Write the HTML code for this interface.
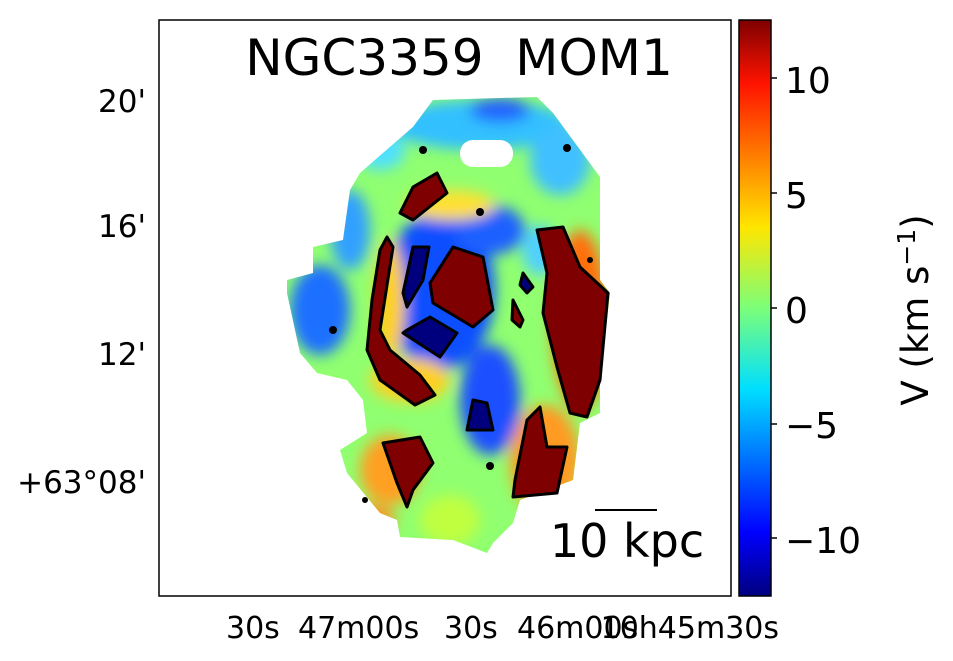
<!DOCTYPE html>
<html><head><meta charset="utf-8"><style>
html,body{margin:0;padding:0;background:#fff}
svg text{font-family:"DejaVu Sans","Liberation Sans",sans-serif}
</style></head><body>
<svg width="953" height="656" viewBox="0 0 953 656" xmlns="http://www.w3.org/2000/svg">
<defs>
<linearGradient id="jet" x1="0" y1="1" x2="0" y2="0">
<stop offset="0" stop-color="#00007f"/><stop offset="0.11" stop-color="#0000ff"/>
<stop offset="0.36" stop-color="#00dfff"/><stop offset="0.5" stop-color="#7cff79"/>
<stop offset="0.64" stop-color="#ffe600"/><stop offset="0.89" stop-color="#ff1300"/>
<stop offset="1" stop-color="#7f0000"/></linearGradient>
<clipPath id="gal"><path d="M413,127 L433,100 L537,97 L553,113 L600,177 L600,280 L610,293 L600,380 L600,413 L580,423 L573,480 L520,500 L513,523 L493,543 L487,553 L453,540 L400,537 L397,520 L380,513 L347,473 L340,450 L367,433 L363,400 L347,380 L317,373 L300,353 L287,293 L287,280 L313,273 L313,247 L343,240 L350,190 L360,173 Z"/></clipPath>
<filter id="bl" x="-50%" y="-50%" width="200%" height="200%"><feGaussianBlur stdDeviation="7"/></filter>
</defs>
<rect x="159" y="20" width="572" height="576" fill="#fff" stroke="#000" stroke-width="1.5"/>
<g clip-path="url(#gal)">
<rect x="280" y="90" width="340" height="470" fill="#90ff70"/>
<g filter="url(#bl)">
<ellipse cx="480" cy="125" rx="90" ry="25" fill="#30c0ff"/>
<ellipse cx="500" cy="110" rx="30" ry="12" fill="#2060ff"/>
<ellipse cx="380" cy="150" rx="25" ry="20" fill="#50e0ff"/>
<ellipse cx="320" cy="310" rx="30" ry="45" fill="#1a70ff"/>
<ellipse cx="350" cy="230" rx="20" ry="40" fill="#30a0ff"/>
<ellipse cx="440" cy="290" rx="55" ry="80" fill="#1050ff"/>
<ellipse cx="490" cy="230" rx="35" ry="25" fill="#1a60ff"/>
<ellipse cx="490" cy="400" rx="30" ry="55" fill="#1a50ff"/>
<ellipse cx="560" cy="160" rx="30" ry="35" fill="#40c0ff"/>
<ellipse cx="540" cy="250" rx="18" ry="25" fill="#50d0ff"/>
<ellipse cx="390" cy="470" rx="30" ry="35" fill="#ffa020"/>
<ellipse cx="410" cy="380" rx="40" ry="22" fill="#ffd020"/>
<ellipse cx="390" cy="300" rx="15" ry="60" fill="#ffd020"/>
<ellipse cx="545" cy="460" rx="35" ry="55" fill="#ff9a20"/>
<ellipse cx="580" cy="320" rx="28" ry="90" fill="#ff7010"/>
<ellipse cx="450" cy="520" rx="30" ry="25" fill="#c0ff40"/>
<ellipse cx="450" cy="205" rx="45" ry="15" fill="#ffe030"/>
<ellipse cx="370" cy="520" rx="25" ry="15" fill="#ff9020"/>
</g>
</g>
<rect x="460" y="140" width="53" height="27" rx="13" fill="#fff"/>
<g fill="#7f0000" stroke="#000" stroke-width="3" stroke-linejoin="round">
<path d="M453,247 L483,257 L493,310 L473,327 L433,303 L430,283 Z"/>
<path d="M437,173 L447,193 L413,220 L400,213 L413,187 Z"/>
<path d="M387,237 L393,247 L380,330 L390,350 L420,375 L435,395 L415,405 L380,380 L367,350 L372,300 L380,250 Z"/>
<path d="M537,230 L563,227 L580,267 L608,293 L600,380 L587,417 L570,413 L557,367 L543,313 L547,273 Z"/>
<path d="M527,420 L540,407 L547,447 L567,447 L557,493 L513,497 L515,480 Z"/>
<path d="M383,443 L420,437 L433,463 L413,490 L407,507 L397,483 Z"/>
<path d="M513,300 L523,320 L520,327 L512,320 Z"/>
</g>
<g fill="#00007f" stroke="#000" stroke-width="3" stroke-linejoin="round">
<path d="M413,247 L429,247 L423,280 L407,307 L403,293 Z"/>
<path d="M407,330 L430,317 L457,333 L440,357 L403,333 Z"/>
<path d="M473,400 L487,403 L493,430 L467,430 Z"/>
<path d="M523,273 L533,287 L527,293 L520,285 Z"/>
</g>
<g fill="#000"><circle cx="423" cy="150" r="4"/><circle cx="567" cy="148" r="4"/><circle cx="480" cy="212" r="4"/><circle cx="333" cy="330" r="4"/><circle cx="490" cy="466" r="4"/><circle cx="365" cy="500" r="3"/><circle cx="590" cy="260" r="3"/></g>
<line x1="595" y1="510" x2="657" y2="510" stroke="#000" stroke-width="2"/>
<text x="627" y="557" font-size="46" text-anchor="middle">10 kpc</text>
<text x="459" y="75" font-size="50" text-anchor="middle" xml:space="preserve">NGC3359  MOM1</text>
<g font-size="31" text-anchor="end">
<text x="146" y="112">20'</text><text x="146" y="237">16'</text><text x="146" y="365">12'</text><text x="146" y="493">+63°08'</text>
</g>
<g font-size="30">
<text x="226" y="638">30s</text><text x="298" y="638">47m00s</text><text x="444" y="638">30s</text><text x="517" y="638">46m00s</text><text x="779" y="638" text-anchor="end">10h45m30s</text>
</g>
<rect x="739" y="20" width="32" height="576" fill="url(#jet)" stroke="#000" stroke-width="1.5"/>
<g stroke="#000" stroke-width="1.5"><line x1="771" y1="78" x2="777" y2="78"/><line x1="771" y1="193" x2="777" y2="193"/><line x1="771" y1="308" x2="777" y2="308"/><line x1="771" y1="424" x2="777" y2="424"/><line x1="771" y1="538" x2="777" y2="538"/></g>
<g font-size="36">
<text x="785" y="93">10</text><text x="785" y="208">5</text><text x="785" y="323">0</text><text x="785" y="438">−5</text><text x="785" y="553">−10</text>
</g>
<text transform="translate(928,310) rotate(-90)" font-size="37" text-anchor="middle">V (km s<tspan dy="-13" font-size="25">−1</tspan><tspan dy="13">)</tspan></text>
</svg>
</body></html>
